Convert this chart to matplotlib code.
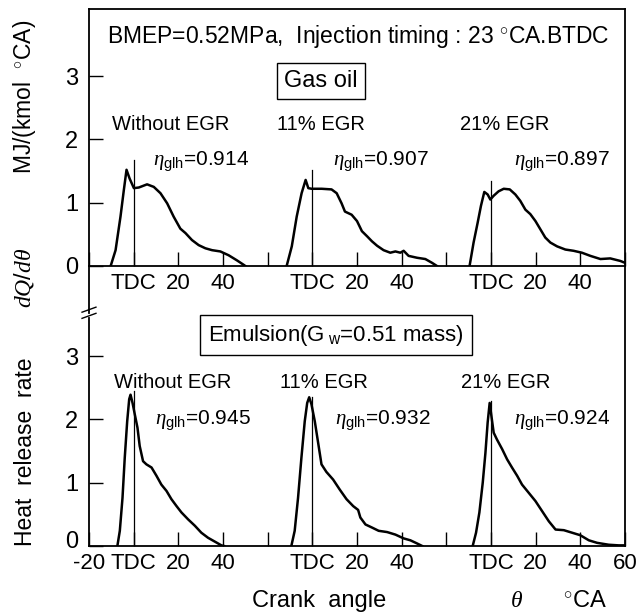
import matplotlib
matplotlib.use("Agg")
import matplotlib.pyplot as plt
import matplotlib.transforms as mtransforms
from matplotlib.lines import Line2D

plt.rcParams['font.family'] = ['Liberation Sans', 'DejaVu Sans']
plt.rcParams['mathtext.fontset'] = 'custom'
plt.rcParams['mathtext.rm'] = 'Liberation Sans'
plt.rcParams['mathtext.it'] = 'Liberation Serif:italic'
NARROW = ['Liberation Sans Narrow', 'Liberation Sans', 'DejaVu Sans']

# crank angle relative to TDC (deg CA) and heat release rate MJ/(kmol deg CA)
# gas oil
go_0_x = [-10.3, -8.1, -5.9, -4.4, -3.2, -1.8, 0.1, 2.3, 6.0, 9.0, 12.0, 15.0, 17.9,
          20.9, 23.2, 26.1, 29.1, 32.1, 35.1, 38.8, 42.5, 46.2, 49.2, 50.0]
go_0_q = [0.0, 0.25, 0.78, 1.2, 1.52, 1.38, 1.23, 1.24, 1.29, 1.25, 1.15, 0.99, 0.78,
          0.59, 0.52, 0.41, 0.33, 0.28, 0.25, 0.23, 0.17, 0.09, 0.02, 0.0]
go_11_x = [-11.5, -9.2, -7.0, -4.8, -3.0, -1.8, -0.3, 4.2, 8.6, 10.9, 13.1, 14.6, 17.6,
           20.0, 22.2, 24.5, 26.7, 29.0, 31.9, 34.9, 37.2, 39.4, 40.9, 43.1, 46.9, 50.6,
           53.6, 55.8]
go_11_q = [0.0, 0.31, 0.78, 1.15, 1.36, 1.23, 1.22, 1.22, 1.21, 1.15, 0.99, 0.86, 0.81,
           0.71, 0.55, 0.47, 0.39, 0.32, 0.25, 0.21, 0.23, 0.21, 0.24, 0.16, 0.13, 0.11,
           0.05, 0.0]
go_21_x = [-9.6, -7.8, -6.0, -4.5, -3.0, -1.5, -0.3, 1.2, 3.4, 5.7, 8.4, 10.9, 13.1, 15.4,
           17.6, 19.9, 22.1, 24.3, 26.6, 29.6, 33.3, 37.0, 40.7, 44.5, 49.0, 53.4, 57.9, 60.0]
go_21_q = [0.0, 0.37, 0.68, 0.95, 1.17, 1.13, 1.05, 1.11, 1.18, 1.22, 1.21, 1.13, 1.03, 0.89,
           0.82, 0.71, 0.58, 0.45, 0.37, 0.31, 0.26, 0.24, 0.21, 0.16, 0.11, 0.12, 0.08, 0.05]

# emulsion
em_0_x = [-7.3, -6.2, -5.0, -4.0, -2.9, -2.0, -1.4, -0.5, 0.5, 1.7, 2.7, 4.2, 5.7, 8.0,
          10.2, 12.4, 14.7, 16.9, 19.2, 21.4, 24.4, 27.4, 30.3, 33.3, 36.3, 39.3, 40.5]
em_0_q = [0.0, 0.24, 0.76, 1.39, 1.97, 2.32, 2.39, 2.26, 2.08, 1.87, 1.58, 1.34, 1.29, 1.24,
          1.11, 0.97, 0.87, 0.74, 0.63, 0.53, 0.42, 0.32, 0.21, 0.13, 0.07, 0.01, 0.0]
em_11_x = [-9.4, -7.9, -6.4, -4.9, -3.4, -2.3, -1.4, -0.4, 1.1, 2.6, 4.1, 6.3, 9.3, 12.3,
           15.3, 18.3, 20.5, 21.5, 23.8, 26.8, 29.7, 33.5, 37.2, 40.9, 43.9, 46.9, 49.2]
em_11_q = [0.0, 0.24, 0.76, 1.39, 1.97, 2.26, 2.35, 2.24, 1.97, 1.63, 1.29, 1.17, 1.05, 0.89,
           0.74, 0.63, 0.57, 0.45, 0.34, 0.29, 0.24, 0.22, 0.18, 0.12, 0.09, 0.04, 0.0]
em_21_x = [-8.2, -6.7, -5.2, -3.7, -2.5, -1.5, -0.6, 0.2, 1.2, 2.7, 5.0, 7.2, 9.4, 11.7,
           13.9, 16.9, 19.9, 22.9, 25.9, 28.9, 32.6, 36.3, 40.0, 43.8, 47.5, 52.7, 57.2, 60.0]
em_21_q = [0.0, 0.21, 0.53, 1.0, 1.47, 1.95, 2.26, 2.05, 1.79, 1.68, 1.53, 1.37, 1.24, 1.11,
           0.97, 0.84, 0.71, 0.55, 0.39, 0.26, 0.25, 0.21, 0.17, 0.09, 0.05, 0.02, 0.01, 0.01]

egr_labels = ['Without EGR', '11% EGR', '21% EGR']
eta_gas_oil = ['0.914', '0.907', '0.897']
eta_emulsion = ['0.945', '0.932', '0.924']
tdc_mark_gas_oil = [1.67, 1.52, 1.35]
tdc_mark_emulsion = [2.45, 2.35, 2.29]

x_ticks = list(range(-20, 221, 20))
top_ticklabels = ['', 'TDC', '20', '40', '', 'TDC', '20', '40', '', 'TDC', '20', '40', '']
bot_ticklabels = ['-20', 'TDC', '20', '40', '', 'TDC', '20', '40', '', 'TDC', '20', '40', '60']
group_offset = [0, 80, 160]

W, H = 643, 614


def px(x, y):
    return x / W, 1 - y / H


fig = plt.figure(figsize=(W / 100, H / 100), dpi=100)
ax_top = fig.add_axes([89 / W, 1 - 266 / H, 536 / W, 257 / H])
ax_bot = fig.add_axes([89 / W, 1 - 546 / H, 536 / W, 280 / H])

lw = 1.8
for ax, curves, marks in [
    (ax_top, [(go_0_x, go_0_q), (go_11_x, go_11_q), (go_21_x, go_21_q)], tdc_mark_gas_oil),
    (ax_bot, [(em_0_x, em_0_q), (em_11_x, em_11_q), (em_21_x, em_21_q)], tdc_mark_emulsion),
]:
    for (cx, cq), off, m in zip(curves, group_offset, marks):
        ax.plot([v + off for v in cx], cq, color='black', lw=lw, solid_joinstyle='round')
        ax.plot([off, off], [0, m], color='black', lw=0.9)
    ax.set_xlim(-20, 220)
    ax.set_xticks(x_ticks)
    ax.set_yticks([0, 1, 2, 3])
    ax.tick_params(direction='in', length=10, width=1.0, pad=5)
    ax.tick_params(axis='x', labelsize=16)
    ax.tick_params(axis='y', labelsize=17, pad=8)
    for s in ax.spines.values():
        s.set_linewidth(1.3)
    ax.patch.set_alpha(0)

ax_top.set_ylim(0, 257 / 63.3)
ax_bot.set_ylim(0, 280 / 63.3)
ax_top.set_xticklabels(top_ticklabels)
ax_bot.set_xticklabels(bot_ticklabels)
ax_bot.spines['top'].set_visible(False)

# lift the lowest "0" a little so it clears the "-20" below it
zero_lab = ax_bot.get_yticklabels()[0]
zero_lab.set_transform(zero_lab.get_transform() +
                       mtransforms.ScaledTranslation(0, 5 / 72, fig.dpi_scale_trans))

# break in the left spine of the lower panel
brk = (280 - 49) / 280
ax_bot.spines['left'].set_bounds(0, 3.60)
ax_bot.add_line(Line2D([0, 0], [brk + 0.008, 1], transform=ax_bot.transAxes,
                       color='black', lw=1.3, clip_on=False))
for dy in (0.0, 0.022):
    ax_bot.add_line(Line2D([-0.013, 0.013], [brk - 0.012 + dy, brk + 0.006 + dy],
                           transform=ax_bot.transAxes, color='black', lw=1.0, clip_on=False))

fig.text(*px(358, 37), 'BMEP=0.52MPa,  Injection timing : 23 $^{\\circ}$CA.BTDC',
         family=NARROW, fontsize=16.5, ha='center', va='center')
fig.text(*px(321, 81), 'Gas oil', family=NARROW, fontsize=17, ha='center', va='center',
         bbox=dict(boxstyle='square,pad=0.3', fc='white', ec='black', lw=1.0))
fig.text(*px(336, 335), 'Emulsion(G$_{\\rm \\ w}$=0.51 mass)', family=NARROW, fontsize=16,
         ha='center', va='center',
         bbox=dict(boxstyle='square,pad=0.35', fc='white', ec='black', lw=1.0))

for lab, eta, xl, xe in zip(egr_labels, eta_gas_oil, [112, 277, 460], [153, 333, 514]):
    fig.text(*px(xl, 124), lab, family=NARROW, fontsize=14.5, ha='left', va='center')
    fig.text(*px(xe, 162), '$\\eta_{\\rm glh}$=' + eta, family=NARROW, fontsize=15,
             ha='left', va='center')
for lab, eta, xl, xe in zip(egr_labels, eta_emulsion, [114, 280, 461], [155, 335, 514]):
    fig.text(*px(xl, 383), lab, family=NARROW, fontsize=14.5, ha='left', va='center')
    fig.text(*px(xe, 421), '$\\eta_{\\rm glh}$=' + eta, family=NARROW, fontsize=15,
             ha='left', va='center')

fig.text(*px(24, 97), 'MJ/(kmol  $^{\\circ}$CA)', fontsize=16.5, rotation=90,
         ha='center', va='center')
fig.text(*px(24, 278), '$dQ/d\\theta$', fontsize=17, rotation=90, ha='center', va='center')
fig.text(*px(26, 452), 'Heat  release  rate', fontsize=16.5, rotation=90,
         ha='center', va='center')
fig.text(*px(319, 601), 'Crank  angle', fontsize=17, ha='center', va='center')
fig.text(*px(517, 601), '$\\theta$', fontsize=17, ha='center', va='center')
fig.text(*px(585, 601), '$^{\\circ}$CA', fontsize=17, ha='center', va='center')

fig.savefig('out.png', dpi=100)
